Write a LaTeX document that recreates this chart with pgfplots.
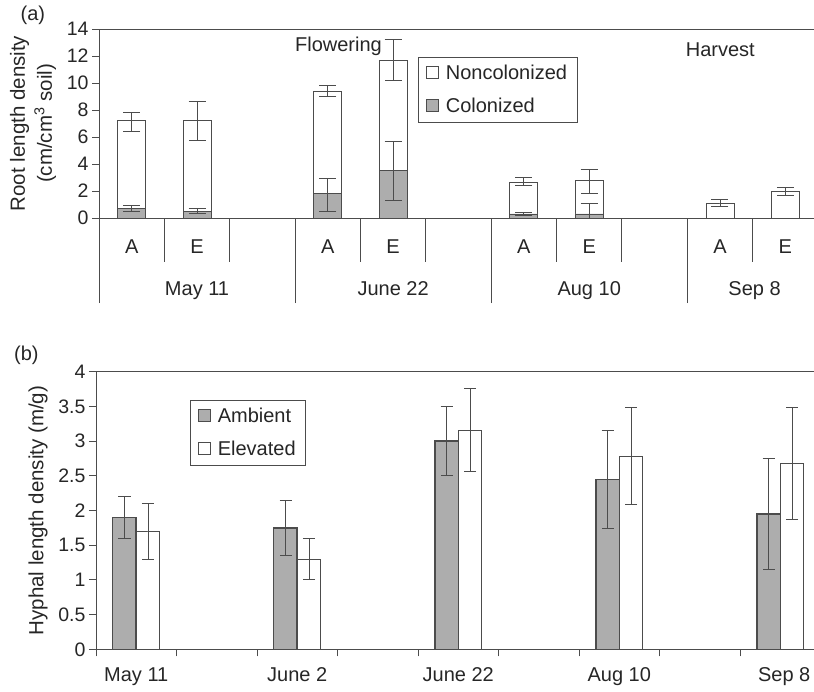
\documentclass[border=0pt]{standalone}
\usepackage{fontspec}
\setmainfont{Liberation Sans}
\usepackage{pgfplots}
\pgfplotsset{compat=1.18}
\definecolor{barg}{gray}{0.68}
\definecolor{ln}{gray}{0.3}
\newcommand{\F}{\fontsize{20}{24}\selectfont}
\newcommand{\T}{\fontsize{19.5}{23}\selectfont}
\begin{document}
\begin{tikzpicture}[font=\F, text=black!85]
\useasboundingbox (0,0) rectangle (814pt,692pt);
\pgfplotsset{
  every axis/.append style={
    scale only axis, anchor=south west, clip=false,
    /pgf/number format/assume math mode=true,
    tick align=outside, major tick length=7pt,
    axis line style={draw=ln, line width=0.9pt},
    major tick style={draw=none},
    minor tick style={draw=ln, line width=0.9pt},
    ytick pos=left, xtick pos=left,
    tick label style={font=\T},
    legend cell align=left,
  },
  sq/.style={legend image code/.code={\draw[##1, line width=0.8pt] (0pt,-5pt) rectangle (11.7pt,6.7pt); \path[draw=none, fill=none] (0pt,0pt) -- (17pt,0pt);}},
  ebar/.style={error bars/.cd, y dir=both, y explicit,
    error bar style={draw=ln, line width=0.9pt},
    error mark options={draw=ln, line width=0.9pt, mark size=#1, rotate=90}},
  leg/.style={draw=ln, line width=0.9pt, font=\F, row sep=13pt, inner xsep=8pt, inner ysep=6pt},
}
% ---------- (a) ----------
\begin{axis}[
  at={(99pt,474pt)}, width=719pt, height=189pt,
  xmin=-0.5, xmax=10.5, ymin=0, ymax=14,
  ytick={0,2,...,14},
  extra y ticks={0,2,...,14}, extra y tick labels={},
  extra y tick style={major tick style={draw=ln, line width=0.9pt}},
  xtick={0,1,3,4,6,7,9,10}, xticklabels={A,E,A,E,A,E,A,E},
  xticklabel style={font=\F, yshift=-11pt},
  minor xtick={0.5,1.5,3.5,4.5,6.5,7.5,9.5},
  minor tick length=44pt,
  extra x ticks={-0.5,2.5,5.5,8.5}, extra x tick labels={},
  extra x tick style={major tick style={draw=ln, line width=0.9pt}, major tick length=85pt},
  ybar, bar width=28pt,
  ylabel={Root length density\\(cm/cm\textsuperscript{3} soil)},
  ylabel style={align=center, font=\fontsize{20.5}{27}\selectfont, at={(axis description cs:-0.0918,0.5)}, anchor=center},
  legend style={leg, at={(rel axis cs:0.4437,0.8519)}, anchor=north west},
]
\addplot[bar shift=0pt, draw=ln, line width=0.8pt, fill=white, sq, ebar=8.5pt]
coordinates {
 (0,7.2) +=(0,0.65) -=(0,0.76)
 (1,7.2) +=(0,1.4) -=(0,1.45)
 (3,9.4) +=(0,0.45) -=(0,0.4)
 (4,11.65) +=(0,1.55) -=(0,1.43)
 (6,2.65) +=(0,0.33) -=(0,0.27)
 (7,2.8) +=(0,0.8) -=(0,0.97)
 (9,1.1) +=(0,0.26) -=(0,0.26)
 (10,1.95) +=(0,0.3) -=(0,0.3)
};
\addlegendentry{Noncolonized}
\addplot[bar shift=0pt, draw=ln, line width=0.8pt, fill=barg, sq, ebar=8.5pt]
coordinates {
 (0,0.72) +=(0,0.22) -=(0,0.22)
 (1,0.5) +=(0,0.18) -=(0,0.18)
 (3,1.8) +=(0,1.15) -=(0,1.33)
 (4,3.5) +=(0,2.2) -=(0,2.17)
 (6,0.3) +=(0,0.08) -=(0,0.08)
 (7,0.3) +=(0,0.8) -=(0,0.3)
};
\addlegendentry{Colonized}
\node[anchor=base west, inner sep=0pt] at (axis cs:2.497,12.32) {Flowering};
\node[anchor=base west, inner sep=0pt] at (axis cs:8.475,11.95) {Harvest};
\node[anchor=base, inner sep=0pt] at (axis cs:1,0) [yshift=-77.7pt] {May 11};
\node[anchor=base, inner sep=0pt] at (axis cs:4,0) [yshift=-77.7pt] {June 22};
\node[anchor=base, inner sep=0pt] at (axis cs:7,0) [yshift=-77.7pt] {Aug 10};
\node[anchor=base, inner sep=0pt] at (axis cs:9.53,0) [yshift=-77.7pt] {Sep 8};
\end{axis}
\node[anchor=base west, inner sep=0pt] at (20.5pt,671pt) {(a)};
% ---------- (b) ----------
\begin{axis}[
  at={(96pt,42.7pt)}, width=724.5pt, height=277.6pt,
  xmin=-0.5, xmax=8.5, ymin=0, ymax=4,
  ytick={0,0.5,...,4},
  extra y ticks={0,0.5,...,4}, extra y tick labels={},
  extra y tick style={major tick style={draw=ln, line width=0.9pt}},
  xtick={0,2,4,6,8}, xticklabels={May 11,June 2,June 22,Aug 10,\hspace{8pt}Sep 8},
  xticklabel style={font=\F, yshift=-8pt},
  minor xtick={-0.5,0.5,...,8.5}, minor tick length=7pt,
  ybar=0pt, bar width=23.5pt,
  ylabel={Hyphal length density (m/g)},
  ylabel style={font=\fontsize{20.5}{24}\selectfont, at={(axis description cs:-0.080,0.5)}, anchor=center},
  legend style={leg, at={(rel axis cs:0.1297,0.898)}, anchor=north west},
]
\addplot[draw=ln, line width=1.5pt, fill=barg, sq, ebar=6pt]
coordinates {
 (0,1.9) +=(0,0.3) -=(0,0.3)
 (2,1.75) +=(0,0.4) -=(0,0.4)
 (4,3.0) +=(0,0.5) -=(0,0.5)
 (6,2.45) +=(0,0.71) -=(0,0.71)
 (8,1.95) +=(0,0.8) -=(0,0.8)
};
\addlegendentry{Ambient}
\addplot[draw=ln, line width=0.8pt, fill=white, sq, ebar=6pt]
coordinates {
 (0,1.7) +=(0,0.4) -=(0,0.4)
 (2,1.3) +=(0,0.3) -=(0,0.3)
 (4,3.16) +=(0,0.6) -=(0,0.6)
 (6,2.78) +=(0,0.7) -=(0,0.7)
 (8,2.68) +=(0,0.81) -=(0,0.81)
};
\addlegendentry{Elevated}
\end{axis}
\node[anchor=base west, inner sep=0pt] at (14pt,331pt) {(b)};
\end{tikzpicture}
\end{document}
